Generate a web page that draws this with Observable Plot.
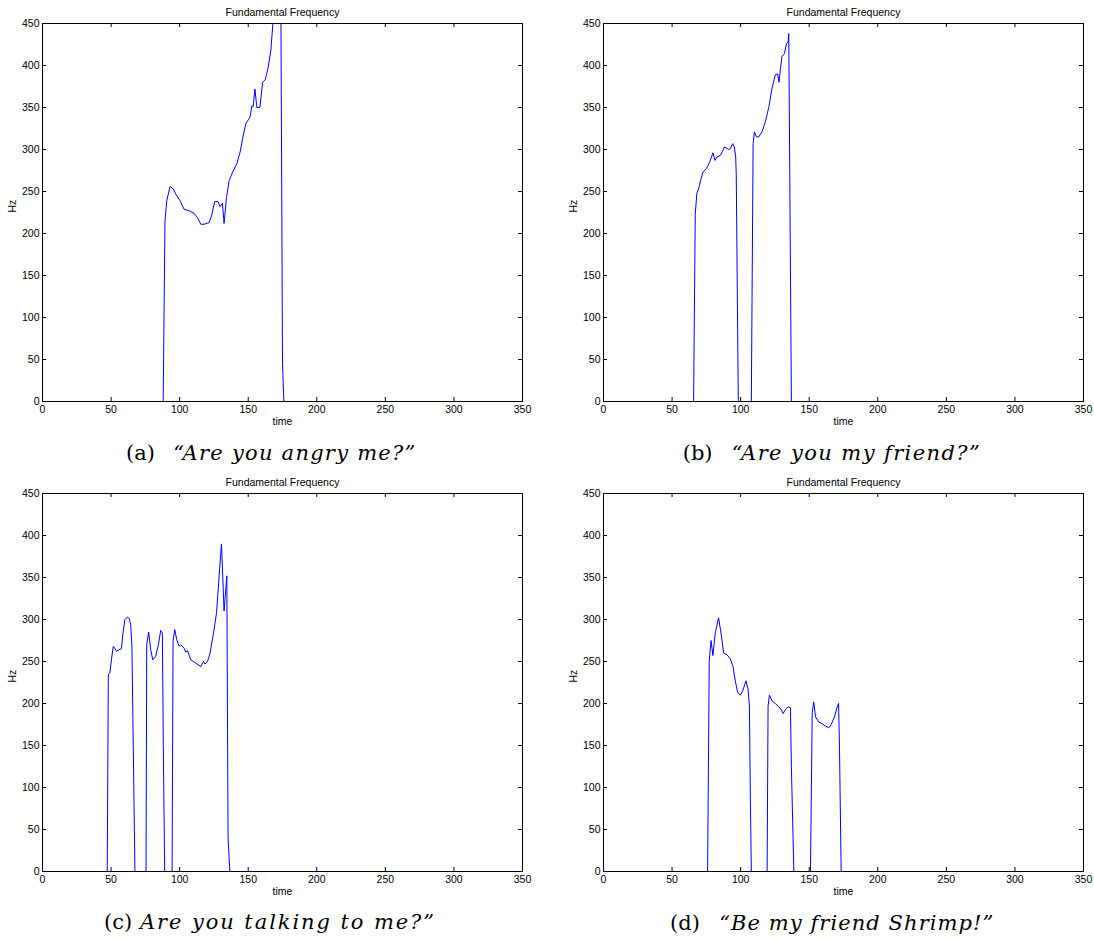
<!DOCTYPE html>
<html>
<head>
<meta charset="utf-8">
<script src="https://cdn.jsdelivr.net/npm/d3@7"></script>
<script src="https://cdn.jsdelivr.net/npm/@observablehq/plot@0.6"></script>
<style>
  html, body { margin: 0; padding: 0; background: #fff; }
  #root { position: relative; width: 1094px; height: 941px; overflow: hidden; background: #fff; }
  .panel { position: absolute; width: 547px; height: 433px; }
  .panel svg { max-width: none !important; }
  #captions { position: absolute; left: 0; top: 0; pointer-events: none; }
</style>
</head>
<body>
<div id="root"></div>
<script>
// ---------- data ----------
const xTicks = [0, 50, 100, 150, 200, 250, 300, 350];
const yTicks = [0, 50, 100, 150, 200, 250, 300, 350, 400, 450];
const titleText = "Fundamental Frequency";
const xLabel = "time";
const yLabel = "Hz";

// (a) "Are you angry me?"
const timeA = [0, 88, 89.3, 90.6, 93, 95.4, 97.2, 100.3, 103.2, 106.9, 110.5, 113, 115.4, 117.8, 121.5, 123.4, 125.6, 128, 129.5, 131.2, 132.4, 134.2, 136.1, 138.6, 141.7, 144.1, 145.9, 148.3, 151.2, 152.7, 153.6, 154.9, 156.3, 158.5, 160.5, 162.4, 164.6, 166.5, 168, 170, 172, 173.8, 175, 176, 350];
const hzA   = [0, 0, 215, 239, 256, 253, 247, 239, 229, 227, 224, 219, 211, 211, 213, 222, 238, 238, 232, 236, 212, 243, 263, 273, 283, 297, 313, 331, 338, 352, 351, 372, 350, 350, 380, 383, 398, 418, 450, 475, 490, 480, 45, 0, 0];

// (b) "Are you my friend?"
const timeB = [0, 65.7, 66.9, 68.1, 69.3, 71.1, 72.5, 74.9, 77.4, 79.8, 81.3, 82.8, 85.2, 88.3, 91.2, 92.5, 94.2, 95.4, 96.4, 96.8, 98.3, 107.8, 109.1, 110, 111.5, 113.2, 115.6, 118, 120.5, 122.9, 125.3, 127, 128, 129, 130.2, 131.9, 133.4, 134.6, 135.1, 137, 350];
const hzB   = [0, 0, 223, 248, 253, 265, 273, 277, 285, 296, 287, 291, 293, 303, 300, 301, 307, 303, 291, 270, 0, 0, 307, 321, 315, 315, 321, 333, 350, 373, 389, 390, 380, 396, 411, 414, 426, 428, 438, 0, 0];

// (c) Are you talking to me?"
const timeC = [0, 47.2, 48, 49.2, 50.4, 51.6, 52.6, 54, 55.8, 57.5, 58.7, 60.1, 61.9, 63.3, 64.3, 65.2, 66.2, 67.4, 75.5, 76, 77.4, 78.9, 80.4, 82.5, 84.5, 86.2, 87.4, 88.1, 89.1, 94.5, 95.2, 96.4, 97.9, 99.6, 100.8, 103.2, 104.5, 105.7, 108.1, 111.8, 115.4, 117.4, 118.6, 120.3, 122.2, 124.7, 126.9, 128.8, 130.5, 132.4, 134.4, 135.3, 136.6, 350];
const hzC   = [0, 0, 234, 237, 254, 268, 266, 262, 264, 265, 284, 300, 303, 301, 294, 268, 149, 0, 0, 270, 285, 264, 252, 256, 270, 287, 284, 149, 0, 0, 274, 288, 276, 268, 270, 266, 261, 263, 252, 248, 244, 250, 247, 250, 260, 284, 308, 352, 390, 310, 352, 40, 0, 0];

// (d) "Be my friend Shrimp!"
const timeD = [0, 75.9, 77.1, 78.4, 79.8, 81.5, 83.9, 85.7, 87.6, 90.1, 92.5, 94.4, 96.1, 97.8, 99.8, 101.5, 103.9, 105.4, 106.4, 107.1, 107.8, 119.3, 120, 121, 122.9, 125.3, 127.8, 129.5, 131, 132.7, 134.6, 136.3, 137, 138.8, 150.9, 152.2, 153.3, 154.6, 157, 159.5, 161.9, 164.3, 166, 168.4, 170.4, 171.4, 172.1, 173.3, 350];
const hzD   = [0, 0, 250, 275, 257, 284, 302, 284, 260, 258, 253, 244, 227, 213, 210, 215, 227, 217, 197, 86, 0, 0, 197, 210, 203, 200, 196, 193, 188, 193, 196, 195, 125, 0, 0, 189, 202, 184, 178, 176, 173, 171, 175, 184, 196, 200, 145, 0, 0];

const captionLabels = ["(a)", "(b)", "(c)", "(d)"];
const captionTexts = ["\u201CAre you angry me?\u201D", "\u201CAre you my friend?\u201D", "Are you talking to me?\u201D", "\u201CBe my friend Shrimp!\u201D"];

// ---------- layout (positions/styles) ----------
const panelPos = [
  {left: 0, top: 0},
  {left: 561, top: 0},
  {left: 0, top: 470},
  {left: 561, top: 470}
];
const captionPos = [
  {lx: 126, ix: 173.3, iw: 242, y: 460},
  {lx: 682.7, ix: 731.7, iw: 248, y: 460},
  {lx: 104, ix: 140, iw: 294, y: 929},
  {lx: 670, ix: 719.3, iw: 274, y: 930}
];

function makePanel(times, values) {
  const data = times.map((t, i) => ({t, hz: values[i]}));
  return Plot.plot({
    width: 547,
    height: 433,
    marginLeft: 42,
    marginRight: 25,
    marginTop: 23,
    marginBottom: 32,
    style: {fontFamily: "'Liberation Sans', Arial, sans-serif", fontSize: "10.5px", background: "white", color: "black", maxWidth: "none"},
    x: {domain: [0, 350]},
    y: {domain: [0, 450]},
    marks: [
      Plot.axisX({ticks: xTicks, tickSize: 0, tickPadding: 4, label: null}),
      Plot.axisY({ticks: yTicks, tickSize: 0, tickPadding: 3, label: null}),
      Plot.ruleX(xTicks, {x: d => d, insetTop: 374, stroke: "black"}),
      Plot.ruleX(xTicks, {x: d => d, insetBottom: 374, stroke: "black"}),
      Plot.ruleY(yTicks, {y: d => d, insetRight: 476, stroke: "black"}),
      Plot.ruleY(yTicks, {y: d => d, insetLeft: 476, stroke: "black"}),
      Plot.frame({stroke: "black"}),
      Plot.line(data, {x: "t", y: "hz", stroke: "#0000ff", strokeWidth: 1, clip: true}),
      Plot.text([titleText], {text: d => d, frameAnchor: "top", lineAnchor: "bottom", dy: -8}),
      Plot.text([xLabel], {text: d => d, frameAnchor: "bottom", lineAnchor: "top", dy: 16}),
      Plot.text([yLabel], {text: d => d, frameAnchor: "left", rotate: -90, dx: -30})
    ]
  });
}

const root = document.getElementById("root");
const series = [[timeA, hzA], [timeB, hzB], [timeC, hzC], [timeD, hzD]];
series.forEach(([t, v], i) => {
  const div = document.createElement("div");
  div.className = "panel";
  div.style.left = panelPos[i].left + "px";
  div.style.top = panelPos[i].top + "px";
  div.appendChild(makePanel(t, v));
  root.appendChild(div);
});

// captions
const cap = d3.select(root).append("svg")
  .attr("id", "captions")
  .attr("width", 1094).attr("height", 941);
captionLabels.forEach((lab, i) => {
  const p = captionPos[i];
  cap.append("text")
    .attr("x", p.lx).attr("y", p.y)
    .attr("font-family", "'DejaVu Serif', serif")
    .attr("font-size", 21)
    .attr("fill", "black")
    .text(lab);
  cap.append("text")
    .attr("x", p.ix).attr("y", p.y)
    .attr("font-family", "'DejaVu Serif', serif")
    .attr("font-style", "italic")
    .attr("font-size", 21)
    .attr("fill", "black")
    .attr("textLength", p.iw)
    .attr("lengthAdjust", "spacing")
    .text(captionTexts[i]);
});
</script>
</body>
</html>
